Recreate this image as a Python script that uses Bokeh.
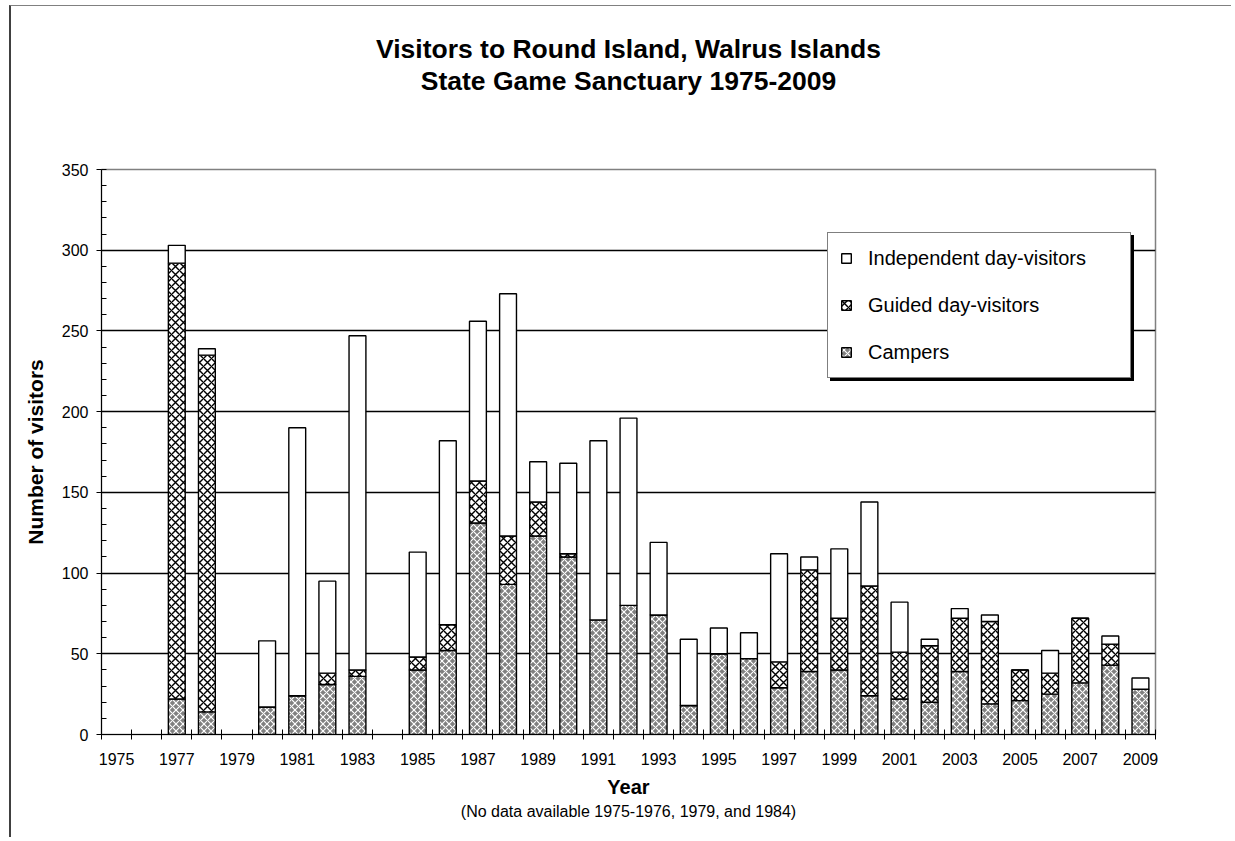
from bokeh.plotting import figure
from bokeh.models import Range1d, FixedTicker, Legend, LegendItem, Title, ColumnDataSource
from bokeh.embed import file_html
from bokeh.resources import INLINE

# ---- data ----
years = [1977, 1978, 1980, 1981, 1982, 1983, 1985, 1986, 1987, 1988, 1989, 1990,
         1991, 1992, 1993, 1994, 1995, 1996, 1997, 1998, 1999, 2000, 2001, 2002,
         2003, 2004, 2005, 2006, 2007, 2008, 2009]
campers = [22, 14, 17, 24, 31, 36, 40, 52, 131, 93, 123, 110,
           71, 80, 74, 18, 50, 47, 29, 39, 40, 24, 22, 20,
           39, 19, 21, 25, 32, 43, 28]
guided = [270, 221, 0, 0, 7, 4, 8, 16, 26, 30, 21, 2,
          0, 0, 0, 0, 0, 0, 16, 63, 32, 68, 29, 35,
          33, 51, 19, 13, 40, 13, 0]
independent = [11, 4, 41, 166, 57, 207, 65, 114, 99, 150, 25, 56,
               111, 116, 45, 41, 16, 16, 67, 8, 43, 52, 31, 4,
               6, 4, 0, 14, 0, 5, 7]
series_names = ["Campers", "Guided day-visitors", "Independent day-visitors"]
y_ticks = [0, 50, 100, 150, 200, 250, 300, 350]
x_label_years = list(range(1975, 2010, 2))
all_years = list(range(1975, 2010))
title_lines = ["Visitors to Round Island, Walrus Islands", "State Game Sanctuary 1975-2009"]
x_title = "Year"
x_note = "(No data available 1975-1976, 1979, and 1984)"
y_title = "Number of visitors"

FONT = "Liberation Sans"

src = ColumnDataSource(dict(year=years, campers=campers, guided=guided,
                            independent=independent))

p = figure(width=1222, height=832,
           x_range=Range1d(all_years[0] - 0.5, all_years[-1] + 0.5),
           y_range=Range1d(y_ticks[0], y_ticks[-1]),
           output_backend="svg", toolbar_location=None,
           min_border_left=90, min_border_right=78,
           min_border_top=163, min_border_bottom=104)
p.styles = {"border-left": "2px solid #404040", "border-top": "1px solid #808080",
            "margin-left": "9px", "margin-top": "5px"}

renderers = p.vbar_stack(["campers", "guided", "independent"], x="year", width=0.56,
                         source=src,
                         fill_color=["#808080", "white", "white"],
                         line_color="black", line_width=1.4,
                         hatch_pattern=["x", "x", " "],
                         hatch_color=["white", "black", "black"],
                         hatch_scale=[7, 8, 8], hatch_weight=[1.2, 1.4, 1.0])

# title: two centred lines, pushed up by an empty spacer next to the frame
title_style = dict(align="center", text_font=FONT, text_font_size="26.5px",
                   text_font_style="bold", text_color="black", offset=-10)
p.title.text = title_lines[0]
for k, v in title_style.items():
    setattr(p.title, k, v)
p.title.standoff = 0
spacer = Title(text=" ", align="center", text_font=FONT, text_font_size="1px",
               standoff=71)
t2 = Title(text=title_lines[1], standoff=0, **title_style)
p.add_layout(spacer, "above")
p.add_layout(t2, "above")

# frame
p.outline_line_color = "#808080"
p.outline_line_width = 1.5
p.background_fill_color = "white"
p.border_fill_color = "white"

ya = p.yaxis[0]
ya.ticker = FixedTicker(ticks=y_ticks, minor_ticks=list(range(0, 351, 10)))
ya.major_tick_in = 0
ya.major_tick_out = 5
ya.minor_tick_in = 5
ya.minor_tick_out = 0
ya.major_label_standoff = 8
ya.axis_line_color = "black"
ya.major_tick_line_color = "black"
ya.minor_tick_line_color = "black"
ya.major_label_text_font = FONT
ya.major_label_text_font_size = "16px"
ya.major_label_text_color = "black"
ya.axis_label = y_title
ya.axis_label_text_font = FONT
ya.axis_label_text_font_size = "21px"
ya.axis_label_text_font_style = "bold"
ya.axis_label_text_color = "black"
ya.axis_label_standoff = 12

xa = p.xaxis[0]
xa.ticker = FixedTicker(ticks=x_label_years,
                        minor_ticks=[y - 0.5 for y in all_years] + [all_years[-1] + 0.5])
xa.major_tick_in = 0
xa.major_tick_out = 0
xa.major_tick_line_color = None
xa.minor_tick_in = 5
xa.minor_tick_out = 5
xa.minor_tick_line_color = "black"
xa.axis_line_color = "black"
xa.major_label_standoff = 13
xa.major_label_text_font = FONT
xa.major_label_text_font_size = "16px"
xa.major_label_text_color = "black"
xa.axis_label = x_title
xa.axis_label_text_font = FONT
xa.axis_label_text_font_size = "20px"
xa.axis_label_text_font_style = "bold"
xa.axis_label_text_color = "black"
xa.axis_label_standoff = 8

note = Title(text=x_note, align="center",
             text_font=FONT, text_font_size="16px", text_font_style="normal",
             text_color="black", standoff=0)
p.add_layout(note, "below")

p.xgrid.visible = False
p.ygrid.ticker = FixedTicker(ticks=y_ticks[1:-1])
p.ygrid.grid_line_color = "black"
p.ygrid.grid_line_width = 1.3

# legend (with shadow)
order = [2, 1, 0]
def make_legend(loc, shadow=False):
    items = [LegendItem(label=(" " if shadow else series_names[i]), renderers=[renderers[i]])
             for i in order]
    lg = Legend(items=items, location=loc, orientation="vertical",
                label_text_font=FONT, label_text_font_size="20px",
                label_text_color="black", glyph_width=12, glyph_height=12,
                label_standoff=16, padding=12, spacing=21, label_height=26,
                label_width=250,
                border_line_color="black", border_line_width=1.2,
                background_fill_color="black" if shadow else "white",
                background_fill_alpha=1, margin=0)
    return lg

p.add_layout(make_legend((729, 353), shadow=True), "center")
p.add_layout(make_legend((726, 356)), "center")

open("out.html", "w").write(file_html(p, INLINE))
